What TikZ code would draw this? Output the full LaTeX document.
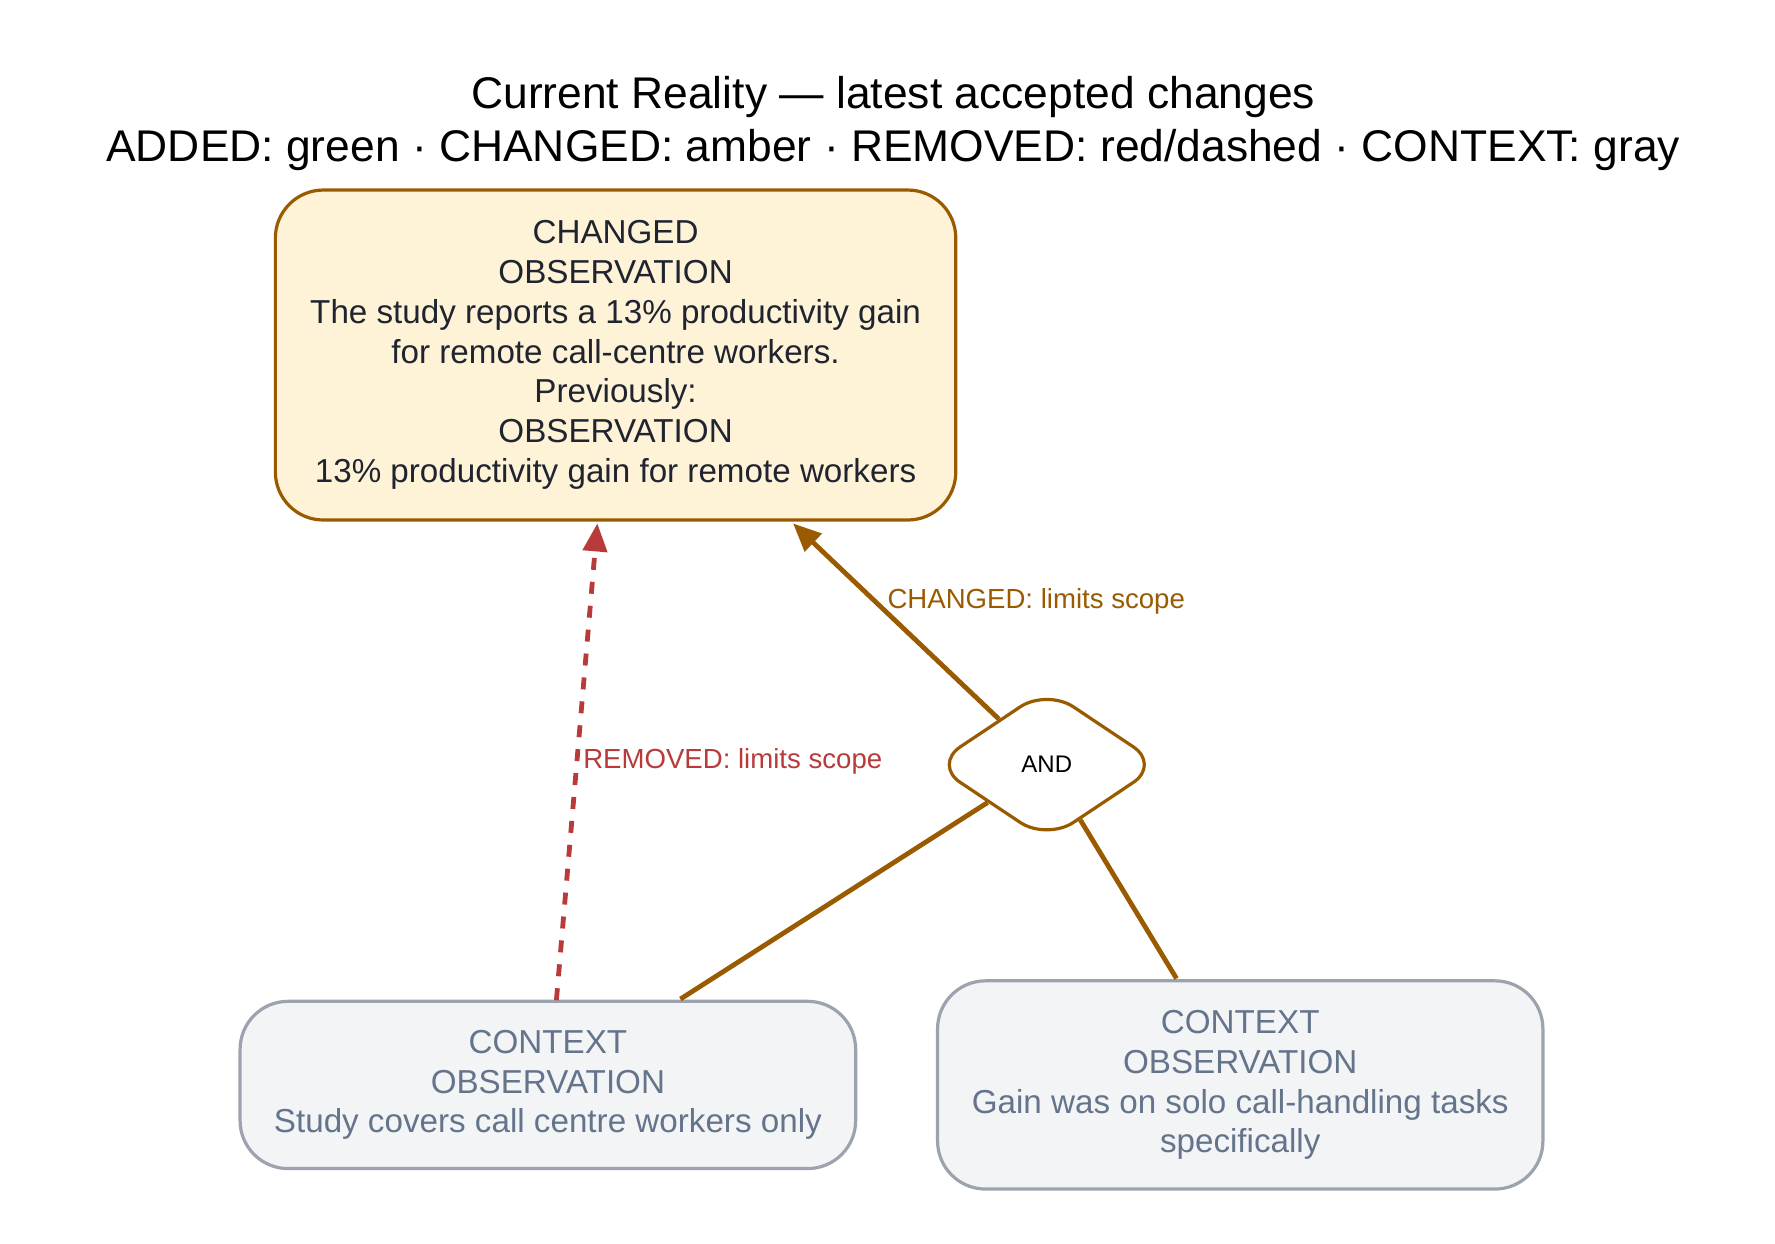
\documentclass[tikz,border=0pt]{standalone}
\usepackage{fontspec}
\setmainfont{Liberation Sans}
\usetikzlibrary{positioning,shapes.geometric,arrows.meta}
\definecolor{amber}{HTML}{9A5B00}
\definecolor{amberfill}{HTML}{FEF3D7}
\definecolor{ctxfill}{HTML}{F3F4F6}
\definecolor{ctxdraw}{HTML}{9CA3AF}
\definecolor{ctxtext}{HTML}{64748B}
\definecolor{removed}{HTML}{B83A3A}
\definecolor{ink}{HTML}{1F2430}
\begin{document}
\begin{tikzpicture}[
         changed/.style = {draw=amber, fill=amberfill, rounded corners=12pt,
         thick, text=ink, align=center, inner sep=0pt,
         font=\fontsize{8.3}{9.96}\selectfont},
         context/.style = {draw=ctxdraw, fill=ctxfill, rounded corners=12pt,
         thick, text=ctxtext, align=center, inner sep=0pt,
         font=\fontsize{8.3}{9.96}\selectfont},
         andgate/.style = {diamond, draw=amber, thick, fill=white,
         rounded corners=8pt, minimum width=2.0cm, minimum height=1.34cm,
         inner sep=0pt, aspect=1.5, font=\fontsize{6}{6}\selectfont},
         link/.style = {draw=amber, line width=1.2pt},
         lbl/.style = {font=\fontsize{6.9}{6.9}\selectfont, inner sep=1pt}
]
         \useasboundingbox (0,0) rectangle (15.6,-10.93);

         % title
         \node[font=\fontsize{11.1}{11.1}\selectfont] (title1) at (7.85,-0.85)
            {Current Reality — latest accepted changes};
         \node[font=\fontsize{11.1}{11.1}\selectfont] (title2) at (7.85,-1.32)
            {ADDED: green · CHANGED: amber · REMOVED: red/dashed · CONTEXT: gray};

         % observation boxes
         \node[changed, minimum width=5.98cm, minimum height=2.9cm]
            (obs) at (5.41,-3.12) {CHANGED\\OBSERVATION\\
            The study reports a 13\% productivity gain\\for remote
            call-centre workers.\\Previously:\\OBSERVATION\\
            13\% productivity gain for remote workers};
         \node[context, minimum width=5.41cm, minimum height=1.47cm]
            (ctxa) at (4.815,-9.535) {CONTEXT\\OBSERVATION\\
            Study covers call centre workers only};
         \node[context, minimum width=5.32cm, minimum height=1.83cm]
            (ctxb) at (10.9,-9.535) {CONTEXT\\OBSERVATION\\
            Gain was on solo call-handling tasks\\specifically};

         \node[andgate] (and) at (9.2,-6.72) {AND};

         % end points on the boxes
         \coordinate (obsa) at (5.25,-4.6);
         \coordinate (obsb) at (6.97,-4.6);
         \coordinate (ctxatop) at (4.89,-8.79);
         \coordinate (ctxaand) at (5.98,-8.78);
         \coordinate (ctxbtop) at (10.34,-8.6);

         \draw[draw=removed, line width=1.2pt, dashed, -{Triangle[length=7pt,width=6pt]}]
            (ctxatop) -- (obsa)
            node[pos=0.5, right, lbl, text=removed] (remlbl) {REMOVED: limits scope};
         \draw[link, -{Triangle[length=7pt,width=6pt]}] (and) -- (obsb)
            node[pos=0.6, right=0.05cm, lbl, text=amber] (chglbl) {CHANGED: limits scope};
         \draw[link] (ctxaand) -- (and);
         \draw[link] (ctxbtop) -- (and);
\end{tikzpicture}
\end{document}
